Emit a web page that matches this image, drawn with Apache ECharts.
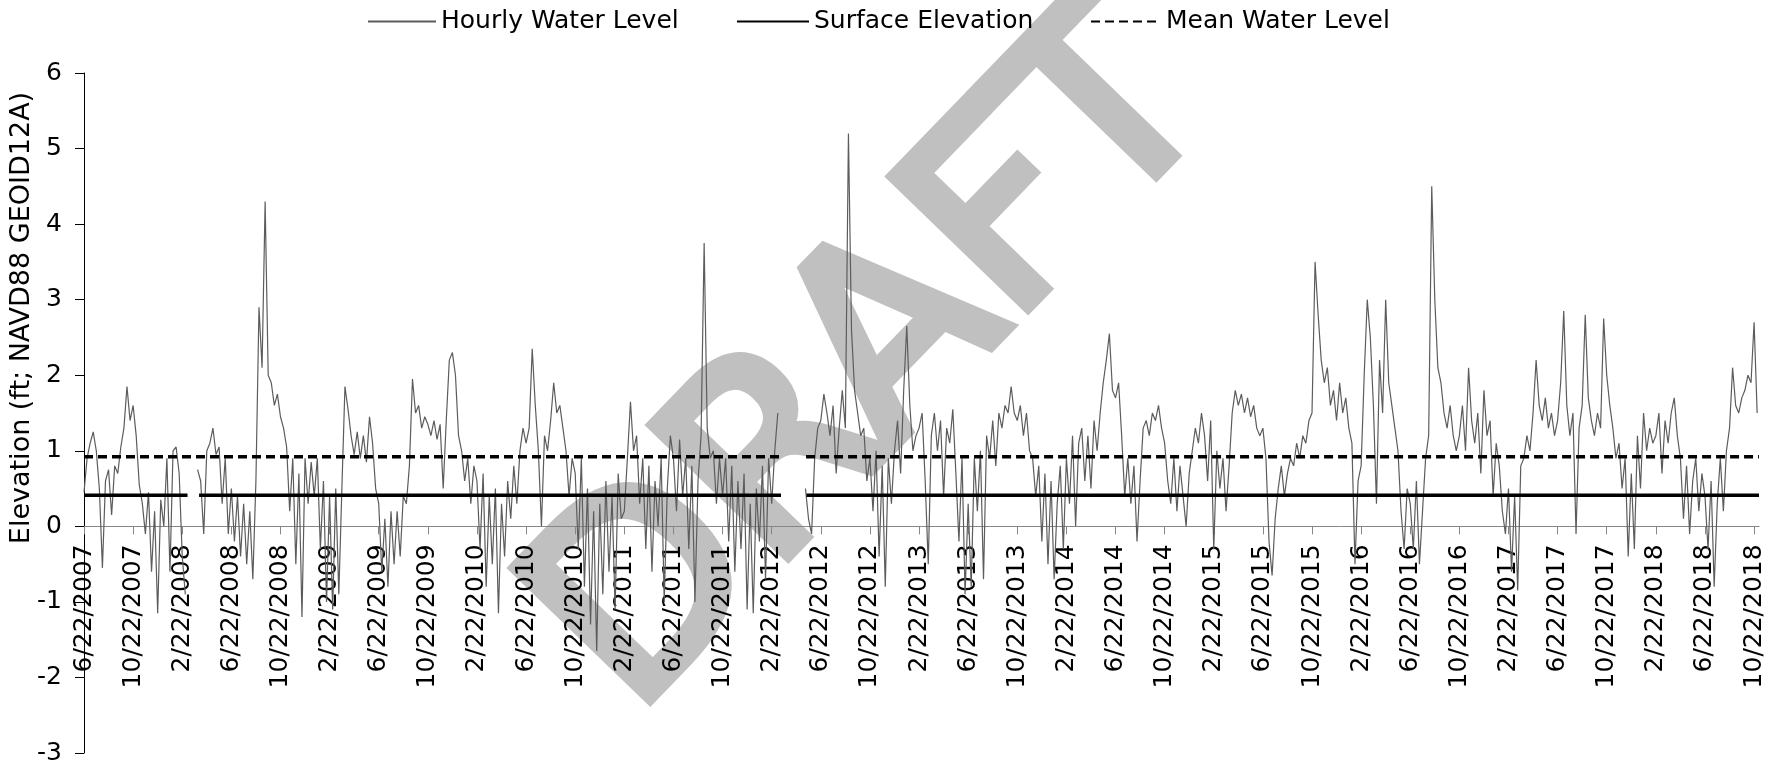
<!DOCTYPE html>
<html><head><meta charset="utf-8">
<script src="https://cdn.jsdelivr.net/npm/echarts@6/dist/echarts.min.js"></script>
<style>html,body{margin:0;padding:0;background:#fff}#c{width:1786px;height:770px}</style>
</head><body><div id="c"></div>
<script>
// Tick labels every 4 months starting 6/22/2007 (x axis in months since 6/22/2007)
const tickLabels = ['6/22/2007','10/22/2007','2/22/2008','6/22/2008','10/22/2008','2/22/2009','6/22/2009','10/22/2009','2/22/2010','6/22/2010','10/22/2010','2/22/2011','6/22/2011','10/22/2011','2/22/2012','6/22/2012','10/22/2012','2/22/2013','6/22/2013','10/22/2013','2/22/2014','6/22/2014','10/22/2014','2/22/2015','6/22/2015','10/22/2015','2/22/2016','6/22/2016','10/22/2016','2/22/2017','6/22/2017','10/22/2017','2/22/2018','6/22/2018','10/22/2018'];
const tickStepMonths = 4;
const axisMaxMonths = 136.4;
const yMin = -3;
const yMax = 6;

// Water level, one value per quarter month (null = no record)
const sampleStepMonths = 0.25;
const hourlyLevel = [
  0.45,0.9,1.1,1.25,1.0,0.5,-0.55,0.6,0.75,0.15,0.8,0.7,1.05,1.3,1.85,1.4,
  1.6,1.2,0.55,0.3,-0.1,0.45,-0.6,0.2,-1.15,0.35,0.0,0.9,-0.6,1.0,1.05,0.7,
  -0.4,-0.9,null,null,null,0.75,0.6,-0.1,1.0,1.1,1.3,0.95,1.05,0.3,0.9,-0.1,
  0.5,-0.2,0.4,-0.4,0.3,-0.5,0.2,-0.7,0.6,2.9,2.1,4.3,2.0,1.9,1.6,1.75,
  1.45,1.3,1.05,0.2,0.9,-0.5,0.7,-1.2,0.9,0.3,0.85,0.4,0.9,-0.3,0.6,-1.0,
  0.4,-1.1,0.5,-0.9,0.5,1.85,1.55,1.2,0.95,1.25,0.9,1.2,0.85,1.45,1.1,0.5,
  0.3,-0.6,0.1,-0.8,0.2,-0.5,0.2,-0.4,0.4,0.3,0.8,1.95,1.5,1.6,1.3,1.45,
  1.35,1.2,1.4,1.15,1.35,0.5,1.4,2.2,2.3,2.0,1.2,1.0,0.6,0.9,0.3,0.8,
  0.6,-0.3,0.7,-0.8,0.4,-0.5,0.5,-1.15,0.3,-0.4,0.6,0.1,0.8,0.3,1.0,1.3,
  1.1,1.3,2.35,1.6,1.0,0.0,1.2,1.0,1.4,1.9,1.5,1.6,1.3,1.0,0.4,0.9,
  0.7,-0.3,0.9,-0.8,0.5,-1.3,0.2,-1.65,0.3,-0.9,0.6,-0.6,0.4,-1.1,0.7,0.1,
  0.2,0.9,1.65,1.0,1.2,0.3,0.9,-0.3,0.8,-0.6,0.6,0.0,0.9,-1.0,0.5,1.2,
  0.9,0.2,1.15,0.4,0.9,-0.3,0.8,-1.0,0.6,1.2,3.75,1.3,0.9,1.0,0.3,0.9,
  0.4,0.9,-0.2,0.8,-0.6,0.6,-0.3,0.7,-1.1,0.3,-1.15,0.5,-0.2,0.8,-0.7,0.9,
  0.3,1.0,1.5,null,null,null,null,null,null,null,null,0.5,0.1,-0.1,0.9,1.3,
  1.4,1.75,1.5,1.2,1.6,0.7,1.3,1.8,1.3,5.2,2.6,1.8,1.5,1.2,1.3,0.6,
  0.9,0.2,1.0,-0.4,0.8,-0.8,0.9,0.3,1.0,1.4,0.7,1.8,2.65,1.6,1.0,1.2,
  1.3,1.5,0.6,-0.5,1.2,1.5,1.0,1.4,0.4,1.3,1.1,1.55,0.7,-0.2,0.9,-0.9,
  0.3,-0.8,0.9,0.2,1.0,-0.7,1.2,0.9,1.4,0.8,1.5,1.3,1.6,1.5,1.85,1.5,
  1.4,1.6,1.2,1.5,1.0,0.9,0.4,0.8,-0.2,0.7,-0.5,0.6,-0.7,0.3,0.8,-0.3,
  0.9,0.3,1.2,0.0,1.1,1.3,0.6,1.2,0.5,1.4,1.0,1.5,1.9,2.2,2.55,1.8,
  1.7,1.9,1.2,0.4,0.9,0.3,0.8,-0.2,0.6,1.3,1.4,1.2,1.5,1.4,1.6,1.3,
  1.1,0.6,0.3,0.9,0.2,0.8,0.4,0.0,0.7,1.0,1.3,1.1,1.5,1.2,0.6,1.4,
  -0.3,1.0,0.5,0.9,0.2,0.8,1.5,1.8,1.6,1.75,1.5,1.7,1.45,1.6,1.3,1.2,
  1.3,0.9,-0.2,-0.65,0.1,0.5,0.8,0.4,0.7,0.9,0.8,1.1,0.9,1.2,1.1,1.4,
  1.5,3.5,2.8,2.2,1.9,2.1,1.6,1.8,1.4,1.9,1.5,1.7,1.3,1.1,-0.5,0.6,
  0.8,2.0,3.0,2.5,1.6,0.3,2.2,1.5,3.0,1.9,1.6,1.3,1.0,0.2,-0.3,0.5,
  0.3,-0.3,0.6,-0.5,0.2,0.9,1.2,4.5,3.0,2.1,1.9,1.5,1.3,1.6,1.2,1.0,
  1.2,1.6,1.0,2.1,1.4,1.1,1.5,0.7,1.8,1.2,1.4,0.4,1.1,0.8,0.2,-0.1,
  0.5,-0.6,0.4,-0.85,0.8,0.9,1.2,1.0,1.5,2.2,1.6,1.4,1.7,1.3,1.5,1.2,
  1.4,1.9,2.85,1.6,1.2,1.5,-0.1,1.3,1.6,2.8,1.7,1.4,1.2,1.5,1.3,2.75,
  2.0,1.6,1.3,0.9,1.1,0.5,0.9,-0.4,0.7,-0.3,1.2,0.5,1.5,1.0,1.3,1.1,
  1.2,1.5,0.7,1.4,1.1,1.5,1.7,1.2,0.9,0.1,0.8,-0.1,0.6,0.9,0.2,0.7,
  0.4,-0.3,0.6,-0.8,0.3,0.9,0.2,1.0,1.3,2.1,1.6,1.5,1.7,1.8,2.0,1.9,
  2.7,1.5
];

const surfaceElevation = 0.41;
const surfaceSegments = [[0, 8.43], [9.37, 56.76], [58.83, 136.4]];
const meanWaterLevel = 0.92;
const meanSegments = [[0, 56.8], [58.8, 136.4]];

const FONT = 'DejaVu Sans';
const GRID = { left: 84, right: 27, top: 73, bottom: 17 };
const W = 1786, H = 770;

function segmentData(segs, v) {
  const out = [];
  segs.forEach((s, i) => { if (i) out.push([s[0], '-']); out.push([s[0], v], [s[1], v]); });
  return out;
}
const hourlyData = hourlyLevel.map((v, i) => [i * sampleStepMonths, v == null ? '-' : v]);
const tickValues = tickLabels.map((_, i) => i * tickStepMonths);

// x axis sits on the zero line: offset it up from the grid bottom
const plotH = H - GRID.top - GRID.bottom;
const zeroOffset = -plotH * (0 - yMin) / (yMax - yMin);

const chart = echarts.init(document.getElementById('c'), null, { renderer: 'canvas' });
const legendText = { fontFamily: FONT, fontSize: 25, color: '#000' };
const legendBase = { top: 4, itemHeight: 14, textStyle: legendText, itemStyle: { opacity: 0 } };
chart.setOption({
  backgroundColor: '#fff',
  animation: false,
  grid: Object.assign({ containLabel: false, outerBoundsMode: 'none' }, GRID),
  legend: [
    Object.assign({ data: ['Hourly Water Level'], left: 362, itemWidth: 68 }, legendBase),
    Object.assign({ data: ['Surface Elevation'], left: 731, itemWidth: 72 }, legendBase),
    Object.assign({ data: ['Mean Water Level'], left: 1085, itemWidth: 70 }, legendBase)
  ],
  xAxis: {
    type: 'value', min: 0, max: axisMaxMonths, interval: tickStepMonths,
    position: 'bottom', offset: zeroOffset,
    axisLine: { onZero: false, lineStyle: { color: '#878787', width: 1 } },
    axisTick: { show: true, length: 8, customValues: tickValues, lineStyle: { color: '#878787' } },
    axisLabel: {
      rotate: 90, margin: 18, fontFamily: FONT, fontSize: 25, color: '#000',
      customValues: tickValues, hideOverlap: false,
      formatter: v => tickLabels[Math.round(v / tickStepMonths)] || ''
    },
    splitLine: { show: false }
  },
  yAxis: {
    type: 'value', min: yMin, max: yMax, interval: 1,
    axisLine: { show: true, onZero: false, lineStyle: { color: '#000', width: 1 } },
    axisTick: { show: true, length: 9, lineStyle: { color: '#000' } },
    axisLabel: { margin: 22, fontFamily: FONT, fontSize: 25, color: '#000' },
    splitLine: { show: false }
  },
  graphic: [
    { type: 'text', z: -10, x: 878, y: 366, rotation: 46 * Math.PI / 180,
      style: { text: 'DRAFT', fill: '#c0c0c0', stroke: '#c0c0c0', lineWidth: 12,
               font: '258px "DejaVu Sans"', align: 'center', verticalAlign: 'middle' } },
    { type: 'text', x: 22, y: 318, rotation: Math.PI / 2,
      style: { text: 'Elevation (ft; NAVD88 GEOID12A)', fill: '#000', font: '27px "DejaVu Sans"', align: 'center', verticalAlign: 'middle' } }
  ],
  series: [
    { name: 'Hourly Water Level', type: 'line', data: hourlyData, symbol: 'none', showSymbol: false, connectNulls: false,
      lineStyle: { color: '#5c5c5c', width: 1.2 }, itemStyle: { color: '#5c5c5c' }, z: 3 },
    { name: 'Surface Elevation', type: 'line', data: segmentData(surfaceSegments, surfaceElevation), symbol: 'none', showSymbol: false,
      lineStyle: { color: '#000', width: 3.5 }, itemStyle: { color: '#000' }, z: 4 },
    { name: 'Mean Water Level', type: 'line', data: segmentData(meanSegments, meanWaterLevel), symbol: 'none', showSymbol: false,
      lineStyle: { color: '#000', width: 3.5, type: [9, 5] }, itemStyle: { color: '#000' }, z: 4 }
  ]
});
</script></body></html>
